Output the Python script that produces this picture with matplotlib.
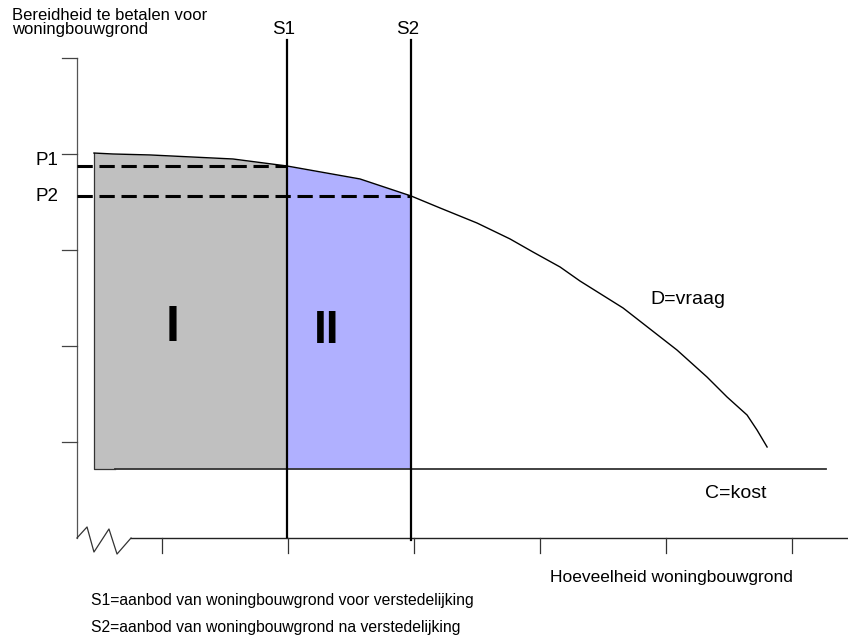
import matplotlib
matplotlib.use('Agg')
import matplotlib.pyplot as plt
import numpy as np

plt.rcParams['font.family'] = ['Liberation Sans', 'DejaVu Sans']

# ===== DATOS =====
# vraagcurve (hoeveelheid, bereidheid te betalen)
demand_q = [0.460, 0.611, 0.905, 1.563, 1.992, 2.571, 2.976, 3.206, 3.500, 3.762,
            3.944, 4.159, 4.317, 4.659, 5.087, 5.325, 5.484, 5.643, 5.722, 5.802]
demand_p = [4.010, 4.000, 3.990, 3.948, 3.875, 3.740, 3.563, 3.438, 3.281, 3.115,
            2.979, 2.823, 2.677, 2.396, 1.958, 1.677, 1.469, 1.281, 1.125, 0.948]
s1_q = 1.992     # aanbod voor verstedelijking
s2_q = 2.976     # aanbod na verstedelijking
cost = 0.72      # C=kost
y_ticks = [1, 2, 3, 4, 5]
x_ticks = [1, 2, 3, 4, 5, 6]

demand_q = np.array(demand_q)
demand_p = np.array(demand_p)
p1 = np.interp(s1_q, demand_q, demand_p)
p2 = np.interp(s2_q, demand_q, demand_p)

# ===== FIGUUR =====
fig = plt.figure(figsize=(8.48, 6.44), dpi=100)
ax = fig.add_axes([0, 0, 1, 1])
ax.set_xlim(-0.2857, 6.444)
ax.set_ylim(-1.104, 5.604)
ax.axis('off')

axis_x = 0.325

# gebieden I en II
m1 = demand_q <= s1_q
ax.fill_between(demand_q[m1], cost, demand_p[m1], color='#c0c0c0', lw=0)
m2 = (demand_q >= s1_q) & (demand_q <= s2_q)
ax.fill_between(demand_q[m2], cost, demand_p[m2], color='#b0b0ff', lw=0)
ax.plot([demand_q[0], demand_q[0], 0.63], [demand_p[0], cost, cost], color='#333333', lw=0.9)

# vraagcurve en kostlijn
ax.plot(demand_q, demand_p, color='black', lw=1.0)
ax.plot([0.63, 6.27], [cost, cost], color='#333333', lw=1.3)

# assen
ax.plot([axis_x, axis_x], [0, 5], color='#555555', lw=0.9)
for t in y_ticks:
    ax.plot([0.206, axis_x], [t, t], color='#444444', lw=0.9)
zz_x = [0.325, 0.405, 0.46, 0.579, 0.643, 0.754]
zz_y = [0, 0.115, -0.146, 0.094, -0.167, 0]
ax.plot(zz_x, zz_y, color='#333333', lw=0.9)
ax.plot([0.754, 6.444], [0, 0], color='#222222', lw=1.0)
for t in x_ticks:
    ax.plot([t, t], [0, -0.156], color='#333333', lw=0.9)

# aanbodlijnen
ax.plot([s1_q, s1_q], [0.01, 5.19], color='black', lw=1.6)
ax.plot([s2_q, s2_q], [-0.02, 5.19], color='black', lw=1.6)

# prijslijnen
ax.plot([axis_x, s1_q], [p1, p1], color='black', lw=2.2, dashes=(5, 2.2))
ax.plot([axis_x, s2_q], [p2, p2], color='black', lw=2.2, dashes=(5, 2.2))

# ===== TEKST =====
ax.text(-0.19, 5.52, 'Bereidheid te betalen voor\nwoningbouwgrond', fontsize=12,
        ha='left', va='top', linespacing=0.95)
ax.text(s1_q - 0.03, 5.3, 'S1', fontsize=13.5, ha='center', va='center')
ax.text(s2_q - 0.03, 5.3, 'S2', fontsize=13.5, ha='center', va='center')
ax.text(0.175, 3.93, 'P1', fontsize=13.5, ha='right', va='center')
ax.text(0.175, 3.56, 'P2', fontsize=13.5, ha='right', va='center')
ax.text(1.083, 2.19, 'I', fontsize=36, fontweight='bold', ha='center', va='center')
ax.text(2.31, 2.16, 'II', fontsize=33, fontweight='bold', ha='center', va='center')
ax.text(5.17, 2.48, 'D=vraag', fontsize=14, ha='center', va='center')
ax.text(5.55, 0.46, 'C=kost', fontsize=14, ha='center', va='center')
ax.text(4.08, -0.41, 'Hoeveelheid woningbouwgrond', fontsize=12.5, ha='left', va='center')
ax.text(0.437, -0.646, 'S1=aanbod van woningbouwgrond voor verstedelijking', fontsize=11.3,
        ha='left', va='center')
ax.text(0.437, -0.927, 'S2=aanbod van woningbouwgrond na verstedelijking', fontsize=11.3,
        ha='left', va='center')

plt.savefig('out.png', dpi=100)
